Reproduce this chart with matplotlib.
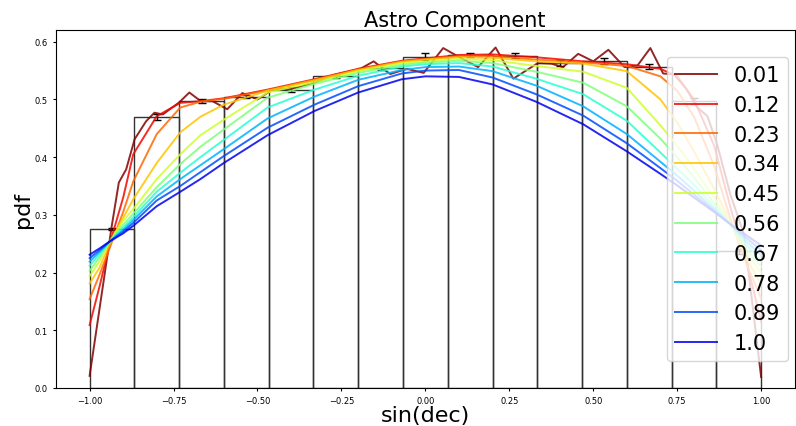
import numpy as np
import matplotlib
matplotlib.use("Agg")
import matplotlib.pyplot as plt
from matplotlib import cm

# ---------------- data ----------------
bin_edges = [-1.0, -0.8667, -0.7333, -0.6, -0.4667, -0.3333, -0.2, -0.0667,
             0.0667, 0.2, 0.3333, 0.4667, 0.6, 0.7333, 0.8667, 1.0]
hist_vals = [0.276, 0.470, 0.497, 0.505, 0.517, 0.540, 0.555, 0.574,
             0.577, 0.576, 0.563, 0.566, 0.557, 0.497, 0.237]
hist_err = [0.002, 0.005, 0.004, 0.003, 0.004, 0.003, 0.004, 0.006,
            0.004, 0.005, 0.005, 0.005, 0.005, 0.005, 0.004]

labels = ["0.01", "0.12", "0.23", "0.34", "0.45", "0.56", "0.67", "0.78", "0.89", "1.0"]

x_s001 = [-1.0, -0.934, -0.913, -0.891, -0.866, -0.832, -0.807, -0.782, -0.733,
          -0.703, -0.669, -0.634, -0.59, -0.545, -0.5, -0.466, -0.451, -0.397,
          -0.332, -0.268, -0.194, -0.154, -0.105, -0.055, -0.005, 0.053, 0.105,
          0.157, 0.209, 0.262, 0.335, 0.375, 0.41, 0.455, 0.5, 0.545, 0.593,
          0.632, 0.67, 0.708, 0.741, 0.775, 0.81, 0.84, 0.869, 0.908, 0.949, 1.0]
y_s001 = [0.021, 0.281, 0.356, 0.379, 0.431, 0.462, 0.477, 0.474, 0.495,
          0.512, 0.497, 0.497, 0.483, 0.511, 0.500, 0.513, 0.518, 0.518,
          0.529, 0.543, 0.553, 0.566, 0.544, 0.553, 0.546, 0.589, 0.572,
          0.556, 0.590, 0.536, 0.563, 0.562, 0.556, 0.579, 0.566, 0.586, 0.556,
          0.559, 0.589, 0.545, 0.543, 0.520, 0.486, 0.471, 0.422, 0.336, 0.266, 0.019]

x_grid = [-1.0, -0.97, -0.94, -0.9, -0.87, -0.8, -0.73, -0.67, -0.6, -0.47, -0.33,
          -0.2, -0.07, 0.0, 0.1, 0.2, 0.33, 0.47, 0.6, 0.7, 0.75, 0.8, 0.86,
          0.91, 0.96, 1.0]
y_s012 = [0.109, 0.177, 0.250, 0.330, 0.405, 0.471, 0.494, 0.497, 0.502, 0.517, 0.535,
          0.553, 0.567, 0.571, 0.577, 0.578, 0.573, 0.566, 0.561, 0.553, 0.540, 0.500,
          0.420, 0.310, 0.210, 0.115]
y_s023 = [0.154, 0.197, 0.243, 0.305, 0.358, 0.440, 0.486, 0.496, 0.501, 0.516, 0.534,
          0.552, 0.566, 0.570, 0.575, 0.575, 0.569, 0.564, 0.558, 0.540, 0.515, 0.470,
          0.385, 0.290, 0.210, 0.155]
y_s034 = [0.181, 0.209, 0.250, 0.295, 0.327, 0.390, 0.443, 0.470, 0.491, 0.515, 0.533,
          0.551, 0.565, 0.569, 0.573, 0.572, 0.566, 0.562, 0.549, 0.500, 0.460, 0.410,
          0.345, 0.285, 0.220, 0.180]
y_s045 = [0.194, 0.220, 0.254, 0.290, 0.310, 0.362, 0.405, 0.438, 0.465, 0.512, 0.530,
          0.549, 0.563, 0.566, 0.570, 0.568, 0.558, 0.548, 0.520, 0.455, 0.420, 0.380,
          0.330, 0.283, 0.230, 0.200]
y_s056 = [0.203, 0.227, 0.254, 0.283, 0.302, 0.348, 0.388, 0.418, 0.448, 0.503, 0.527,
          0.546, 0.560, 0.564, 0.567, 0.563, 0.548, 0.529, 0.488, 0.432, 0.400, 0.365,
          0.320, 0.283, 0.238, 0.210]
y_s067 = [0.212, 0.232, 0.254, 0.278, 0.296, 0.340, 0.373, 0.400, 0.430, 0.486, 0.517,
          0.541, 0.557, 0.561, 0.563, 0.557, 0.536, 0.509, 0.463, 0.408, 0.380, 0.352,
          0.314, 0.283, 0.245, 0.220]
y_s078 = [0.219, 0.236, 0.254, 0.274, 0.291, 0.332, 0.362, 0.386, 0.414, 0.467, 0.505,
          0.534, 0.551, 0.556, 0.557, 0.549, 0.524, 0.488, 0.440, 0.392, 0.368, 0.342,
          0.310, 0.283, 0.252, 0.230]
y_s089 = [0.225, 0.239, 0.254, 0.271, 0.286, 0.325, 0.350, 0.374, 0.402, 0.451, 0.491,
          0.523, 0.545, 0.550, 0.551, 0.538, 0.509, 0.472, 0.424, 0.381, 0.359, 0.335,
          0.307, 0.283, 0.258, 0.239]
y_s100 = [0.231, 0.242, 0.254, 0.268, 0.281, 0.315, 0.340, 0.362, 0.390, 0.438, 0.480,
          0.512, 0.535, 0.540, 0.539, 0.526, 0.496, 0.457, 0.410, 0.371, 0.351, 0.330,
          0.305, 0.283, 0.263, 0.247]

smooth_series = [y_s012, y_s023, y_s034, y_s045, y_s056, y_s067, y_s078, y_s089, y_s100]

# ---------------- plot ----------------
fig = plt.figure(figsize=(7.96, 4.27), dpi=100)
ax = fig.add_axes([0.0704, 0.089, 0.928, 0.838])

colors = cm.jet(np.linspace(1.0, 0.1, 10))

lefts = bin_edges[:-1]
widths = [bin_edges[i + 1] - bin_edges[i] for i in range(len(hist_vals))]
ax.bar(lefts, hist_vals, width=widths, align="edge", fill=False,
       edgecolor="#333333", linewidth=1.0, zorder=1)
centers = [(bin_edges[i] + bin_edges[i + 1]) / 2 for i in range(len(hist_vals))]
ax.errorbar(centers, hist_vals, yerr=hist_err, fmt="none", ecolor="black",
            elinewidth=1.0, capsize=3, zorder=2)

ax.plot(x_s001, y_s001, color=colors[0], alpha=0.85, lw=1.4, label=labels[0], zorder=3)
for i, ys in enumerate(smooth_series):
    ax.plot(x_grid, ys, color=colors[i + 1], alpha=0.85, lw=1.4, label=labels[i + 1], zorder=3)

ax.set_xlim(-1.1, 1.1)
ax.set_ylim(0.0, 0.62)
ax.set_xticks([-1.0, -0.75, -0.5, -0.25, 0.0, 0.25, 0.5, 0.75, 1.0])
ax.set_yticks([0.0, 0.1, 0.2, 0.3, 0.4, 0.5, 0.6])
ax.tick_params(labelsize=6, length=2.5)
ax.set_xlabel("sin(dec)", fontsize=16, labelpad=0)
ax.set_ylabel("pdf", fontsize=16, labelpad=1)
ax.set_title("Astro Component", fontsize=15, x=0.54, pad=3)

ax.legend(loc="center right", fontsize=15, framealpha=0.8, borderaxespad=0.3,
          labelspacing=0.47)

fig.savefig("out.png", dpi=100)
